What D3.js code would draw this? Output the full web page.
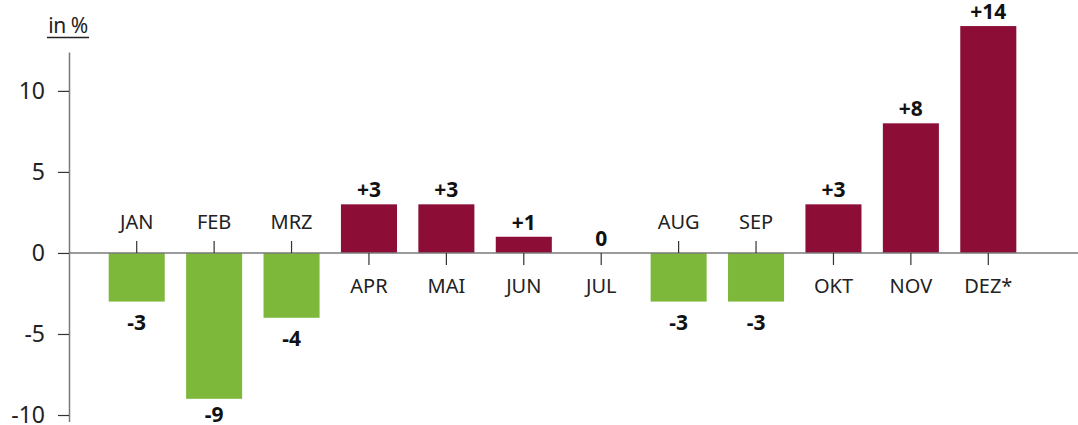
<!DOCTYPE html>
<html>
<head>
<meta charset="utf-8">
<script src="https://cdn.jsdelivr.net/npm/d3@7"></script>
<style>
  body { margin: 0; background: #fff; }
  text { font-family: "Noto Sans", "DejaVu Sans", sans-serif; }
</style>
</head>
<body>
<svg id="chart" width="1078" height="425"></svg>
<script>
// data
var months = ["JAN", "FEB", "MRZ", "APR", "MAI", "JUN", "JUL", "AUG", "SEP", "OKT", "NOV", "DEZ*"];
var values = [-3, -9, -4, 3, 3, 1, 0, -3, -3, 3, 8, 14];
var yTicks = [-10, -5, 0, 5, 10];

var posColour = "#8c0d35";
var negColour = "#7db83b";
var axisColour = "#7a7a7a";

var svg = d3.select("#chart");

var x = d3.scaleBand()
    .domain(months)
    .range([98, 1027])
    .paddingInner(0.276)
    .paddingOuter(0.138);

var y = d3.scaleLinear()
    .domain([-10.4, 12.4])
    .range([421.5, 52]);

// y axis
var yAxis = svg.append("g")
    .attr("transform", "translate(69,0)")
    .call(d3.axisLeft(y).tickValues(yTicks).tickSize(11).tickPadding(13).tickSizeOuter(0));
yAxis.select(".domain").attr("stroke", axisColour).attr("stroke-width", 1.5);
yAxis.selectAll(".tick line").attr("stroke", "#333").attr("stroke-width", 1.2);
yAxis.selectAll(".tick text")
    .attr("font-size", 23)
    .attr("fill", "#222")
    .text(function (d) { return d; });

// unit label
svg.append("text")
    .attr("x", 68)
    .attr("y", 33)
    .attr("text-anchor", "middle")
    .attr("font-size", 21)
    .attr("letter-spacing", -0.5)
    .attr("fill", "#222")
    .text("in %");
svg.append("line")
    .attr("x1", 47).attr("x2", 89)
    .attr("y1", 37.5).attr("y2", 37.5)
    .attr("stroke", "#222").attr("stroke-width", 1.6);

// bars
svg.selectAll("rect.bar")
    .data(values)
    .enter()
    .append("rect")
    .attr("class", "bar")
    .attr("x", function (d, i) { return x(months[i]); })
    .attr("width", x.bandwidth())
    .attr("y", function (d) { return y(Math.max(d, 0)); })
    .attr("height", function (d) { return Math.abs(y(d) - y(0)); })
    .attr("fill", function (d) { return d < 0 ? negColour : posColour; });

// zero line
svg.append("line")
    .attr("x1", 69).attr("x2", 1078)
    .attr("y1", y(0)).attr("y2", y(0))
    .attr("stroke", axisColour).attr("stroke-width", 1.5);

// category ticks + labels
var cats = svg.selectAll("g.cat")
    .data(values)
    .enter()
    .append("g")
    .attr("class", "cat")
    .attr("transform", function (d, i) {
        return "translate(" + (x(months[i]) + x.bandwidth() / 2) + "," + y(0) + ")";
    });

cats.append("line")
    .attr("y1", 0)
    .attr("y2", function (d) { return d < 0 ? -12 : 12; })
    .attr("stroke", "#333")
    .attr("stroke-width", 1.2);

cats.append("text")
    .attr("text-anchor", "middle")
    .attr("y", function (d) { return d < 0 ? -24 : 40; })
    .attr("font-size", 20)
    .attr("fill", "#222")
    .text(function (d, i) { return months[i]; });

// value labels
svg.selectAll("text.val")
    .data(values)
    .enter()
    .append("text")
    .attr("class", "val")
    .attr("text-anchor", "middle")
    .attr("x", function (d, i) { return x(months[i]) + x.bandwidth() / 2; })
    .attr("y", function (d) { return d < 0 ? Math.min(y(d) + 28, 422) : y(d) - 7; })
    .attr("font-size", 21)
    .attr("font-weight", "bold")
    .attr("fill", "#111")
    .text(function (d) { return d > 0 ? "+" + d : String(d); });
</script>
</body>
</html>
